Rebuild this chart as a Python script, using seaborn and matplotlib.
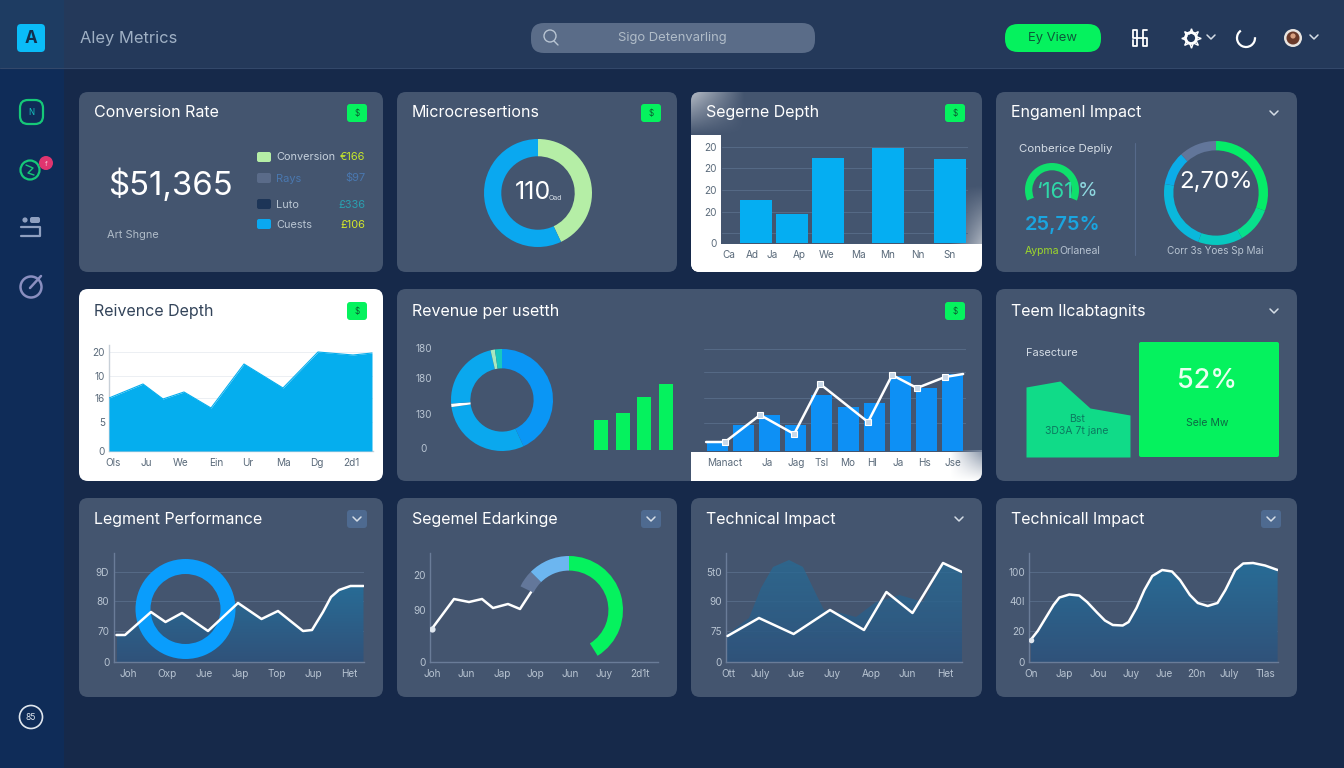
import numpy as np
import matplotlib
matplotlib.use("Agg")
import matplotlib.pyplot as plt
from matplotlib.patches import FancyBboxPatch, Rectangle, Circle, Arc
from matplotlib.colors import to_rgb
import seaborn as sns

# ---------- data ----------
micro_share = [43, 57]
seg_x = [34, 70, 106, 166, 228]
seg_vals = [43, 29, 85, 95, 84]
seg_ticks = [96, 75, 53, 31, 10, 0]
seg_ticklabels = ["20", "20", "20", "20", "", "0"]
seg_xticks = [7, 30, 50, 77, 105, 136, 166, 196, 228]
seg_xlabels = ["Ca", "Ad", "Ja", "Ap", "We", "Ma", "Mn", "Nn", "Sn"]

engage_ring = [110, 40, 50, 80, 38, 42]
engage_gauge = [226, 134]

rev_x = [0, 34, 54, 75, 102, 135, 174, 209, 244, 263]
rev_y = [53, 67, 52, 59, 43, 87, 63, 99, 96, 98]
rev_ticks = [99, 75, 53, 29, 0]
rev_ticklabels = ["20", "10", "16", "5", "0"]
rev_xticks = [4, 37, 72, 107, 139, 174, 208, 242]
rev_xlabels = ["Ols", "Ju", "We", "Ein", "Ur", "Ma", "Dg", "2d1"]

user_donut = [155, 107, 4, 81, 5, 8]
user_green = [30, 37, 53, 66]
user_green_cat = ["a", "b", "c", "d"]
user_bars = [9, 26, 36, 26, 56, 44, 48, 75, 63, 77]
user_line_x = [-0.42, 0.3, 1.64, 2.94, 3.93, 5.76, 6.68, 7.63, 8.7, 9.39]
user_line_y = [9, 9, 36, 17, 67, 29, 76, 63, 74, 77]
user_grid = [102, 79, 53, 28]
user_xticks = [0.3, 1.9, 3.0, 4.0, 5.0, 5.9, 6.9, 7.9, 9.0]
user_xlabels = ["Manact", "Ja", "Jag", "Tsl", "Mo", "Hl", "Ja", "Hs", "Jse"]

team_x = [0, 34, 64, 104]
team_y = [70, 76, 49, 42]

leg_x = [3, 11.5, 37.5, 52, 68.5, 94.5, 124.5, 148, 164.5, 189.5, 198.5, 209.5, 217.5, 225.5, 237, 250]
leg_y = [27, 27, 50, 40, 49, 31, 59, 43, 51, 31, 32, 50, 65, 72, 76, 76]
leg_xticks = [15, 53, 91, 127, 163, 200, 236]
leg_xlabels = ["Joh", "Oxp", "Jue", "Jap", "Top", "Jup", "Het"]

sgm_x = [2, 24.3, 39.3, 52.3, 63.3, 78.3, 90.3, 102.7]
sgm_y = [33, 63, 60, 63, 54, 58, 53, 72]
sgm_gauge = [19, 45, 148, 148]
sgm_xticks = [3, 36, 72, 106, 140, 174, 210]
sgm_xlabels = ["Joh", "Jun", "Jap", "Jop", "Jun", "Juy", "2d1t"]

tech_x = [1.5, 33, 67.6, 104, 138, 160.4, 186.5, 217, 236]
tech_y = [26, 44, 28, 52, 32, 70, 49, 99, 90]
tech_fill_x = [0, 23, 35, 47, 63, 77, 90.5, 98, 104, 130, 150, 173.5, 197, 217, 236]
tech_fill_y = [27, 44, 74, 95, 102, 95, 67, 52, 52, 45, 60, 67, 60, 99, 90]
tech_xticks = [2, 34, 70, 106, 145, 181, 219]
tech_xlabels = ["Ott", "July", "Jue", "Juy", "Aop", "Jun", "Het"]

imp_x = [1.6, 8.7, 16.6, 24.5, 30.4, 40.3, 50.2, 58.1, 68, 75.9, 83.8, 93.7, 99.6, 107.5, 115.4,
         123.3, 133.2, 143, 151, 160.9, 168.8, 178.7, 188.5, 196.4, 206.3, 214.2, 224.1, 236, 248.6]
imp_y = [22, 31, 44, 57, 64.5, 67.5, 66.5, 60, 49.5, 41.5, 37, 36.5, 40, 54, 72,
         86, 92, 90.5, 82, 67, 59, 56, 59, 72, 92, 98.5, 99, 96.5, 92]
imp_xticks = [2, 35, 69, 102, 135, 167, 200, 236]
imp_xlabels = ["On", "Jap", "Jou", "Juy", "Jue", "20n", "July", "Tlas"]

# ---------- style ----------
sns.set_theme(style="white")
plt.rcParams["font.family"] = ["Inter", "DejaVu Sans"]
plt.rcParams["axes.unicode_minus"] = False

BG = "#16294a"
SIDE = "#0f2c58"
HEAD = "#24395a"
PANEL = "#44556f"
GREEN = "#05f25e"
BLUE = "#05aeee"
LABEL = "#b8c4d2"
DARK = "#5a6a7a"
GRID = "#566a86"
AXIS = "#6a7c98"

W, H = 1344, 768
fig = plt.figure(figsize=(W / 100, H / 100), dpi=100, facecolor=BG)


def axes_px(x0, y0, x1, y1, z=2):
    ax = fig.add_axes([x0 / W, 1 - y1 / H, (x1 - x0) / W, (y1 - y0) / H], zorder=z)
    ax.patch.set_alpha(0)
    return ax


bg = axes_px(0, 0, W, H, 0)
bg.set_xlim(0, W)
bg.set_ylim(H, 0)
bg.axis("off")
fg = axes_px(0, 0, W, H, 20)
fg.set_xlim(0, W)
fg.set_ylim(H, 0)
fg.axis("off")


def T(x, y, s, px, color="white", ha="left", weight="normal"):
    return fg.text(x, y + 1.5, s, fontsize=px * 0.72, color=color, ha=ha, va="center", fontweight=weight)


def panel(x0, y0, x1, y1, color=PANEL, target=bg, rad=9, z=1):
    p = FancyBboxPatch((x0 + rad, y0 + rad), x1 - x0 - 2 * rad, y1 - y0 - 2 * rad,
                       boxstyle=f"round,pad={rad},rounding_size={rad}",
                       fc=color, ec="none", zorder=z)
    target.add_patch(p)
    return p


def badge(x, y, s="$"):
    panel(x - 10, y - 9, x + 10, y + 9, GREEN, bg, 3, 3)
    T(x, y - 1, s, 8, "#0a5a30", "center")


def chev(x, y, c="#d5dde6", s=4):
    fg.plot([x - s, x, x + s], [y - s / 2, y + s / 2, y - s / 2], color=c, lw=1.1)


def gloss(x0, y0, x1, y1, clip, hramp, vramp, color="white", a=0.55):
    n = 64
    arr = np.ones((n, n, 4))
    arr[..., :3] = to_rgb(color)
    h = np.linspace(a, 0, n) if hramp == "left" else np.linspace(0, a, n)
    v = np.linspace(1, 0, n) if vramp == "top" else np.linspace(0, 1, n)
    arr[..., 3] = h[None, :] * v[:, None]
    im = bg.imshow(arr, extent=(x0, x1, y1, y0), aspect="auto", zorder=4)
    im.set_clip_path(clip)
    bg.set_xlim(0, W)
    bg.set_ylim(H, 0)


def donut(cx, cy, r, values, colors, width, start=0, z=3):
    ax = axes_px(cx - r, cy - r, cx + r, cy + r, z)
    ax.pie(values, colors=colors, startangle=90 - start, counterclock=False, radius=1,
           wedgeprops=dict(width=width, linewidth=0))
    ax.set_xlim(-1, 1)
    ax.set_ylim(-1, 1)
    return ax


def chart(x0, y0, x1, y1, yticks, ylabels, xticks, xlabels, z=2, grid=True, light=False,
          spines=True, lab=None, pad=3):
    ax = axes_px(x0, y0, x1, y1, z)
    ax.set_xlim(0, x1 - x0)
    ax.set_ylim(0, y1 - y0)
    return style_chart(ax, yticks, ylabels, xticks, xlabels, grid, light, spines, lab, pad)


def style_chart(ax, yticks, ylabels, xticks, xlabels, grid=True, light=False, spines=True, lab=None, pad=3):
    col = lab or (DARK if light else LABEL)
    ax.set_xticks(xticks, xlabels)
    ax.set_yticks(yticks, ylabels)
    ax.tick_params(axis="both", length=0, labelsize=7.2, labelcolor=col)
    ax.tick_params(axis="x", pad=5)
    ax.tick_params(axis="y", pad=pad)
    ax.set_xlabel("")
    ax.set_ylabel("")
    for s in ("top", "right"):
        ax.spines[s].set_visible(False)
    for s in ("left", "bottom"):
        ax.spines[s].set_visible(spines)
        ax.spines[s].set_color("#c8d0d8" if light else AXIS)
        ax.spines[s].set_linewidth(1)
    if grid:
        ax.grid(axis="y", color="#eceff3" if light else GRID, lw=0.7)
        ax.set_axisbelow(True)
    else:
        ax.grid(False)
    return ax


def grad_fill(ax, x, y, top=(40, 108, 150), bottom=(48, 82, 122), top_alpha=0.9):
    poly = ax.fill_between(x, 0, y, color="none", lw=0)
    xl, yl = ax.get_xlim(), ax.get_ylim()
    n = 128
    t = np.linspace(1, 0, n)
    tp, bt = np.array(top) / 255, np.array(bottom) / 255
    arr = np.zeros((n, 1, 4))
    arr[:, 0, :3] = tp[None, :] * t[:, None] + bt[None, :] * (1 - t[:, None])
    arr[:, 0, 3] = 1 - (1 - top_alpha) * t
    im = ax.imshow(arr, extent=(min(x), max(x), 0, max(y)), aspect="auto", zorder=1)
    im.set_clip_path(poly.get_paths()[0], ax.transData)
    ax.set_xlim(xl)
    ax.set_ylim(yl)
    return im


def line(ax, x, y, lw=1.8):
    sns.lineplot(x=x, y=y, color="white", lw=lw, ax=ax, sort=False, estimator=None, errorbar=None,
                 zorder=5, solid_joinstyle="round")
    ax.set_xlabel("")
    ax.set_ylabel("")


# ---------- chrome ----------
bg.add_patch(Rectangle((0, 0), 64, H, fc=SIDE, ec="none", zorder=0.2))
bg.add_patch(Rectangle((0, 0), W, 68, fc=HEAD, ec="none", zorder=0.3))
bg.add_patch(Rectangle((0, 0), 64, 68, fc="#1e3c62", ec="none", zorder=0.4))
bg.plot([0, W], [68, 68], color="#33486a", lw=0.8, zorder=0.5)

panel(17, 24, 45, 52, "#0abcf8", bg, 4, 2)
T(31, 37, "A", 17, "#12304e", "center", "bold")
T(80, 37, "Aley Metrics", 16.5, "#9fb0c4")
panel(531, 23, 815, 53, "#5a6c88", bg, 13, 2)
T(672, 37, "Sigo Detenvarling", 13, "#b0bcc8", "center")
fg.add_patch(Circle((550, 36), 6, fc="none", ec="#b8c4d2", lw=1))
fg.plot([554, 558], [41, 45], color="#b8c4d2", lw=1)
panel(1005, 24, 1101, 52, GREEN, bg, 13, 2)
T(1053, 37, "Ey View", 13, "#0c5a3a", "center")
fg.plot([1133, 1133, 1137, 1137, 1133, 1133, 1147, 1147, 1143, 1143, 1147],
        [40, 46, 46, 30, 30, 38, 38, 46, 46, 30, 30], color="white", lw=1.3)
fg.add_patch(Circle((1191, 38), 5.5, fc="none", ec="white", lw=2))
fg.plot([1191], [38], marker=(8, 1, 0), ms=14, mfc="none", mec="white", mew=1)
chev(1211, 37)
fg.add_patch(Arc((1246, 38), 18, 18, theta1=-5, theta2=235, ec="white", lw=1.6))
chev(1314, 37)
fg.add_patch(Circle((1293, 38), 9, fc="#e8e4e0", ec="none"))
fg.add_patch(Circle((1293, 38), 6.5, fc="#6a3a2a", ec="none"))
fg.add_patch(Circle((1293, 36), 2.6, fc="#d8a080", ec="none"))

# sidebar icons
panel(20, 100, 43, 124, "none", fg, 8, 6).set(ec="#16c878", lw=1.6)
T(31, 111, "N", 8, "#18c8c0", "center")
fg.add_patch(Circle((30, 170), 9.5, fc="none", ec="#16c878", lw=1.6))
fg.plot([26, 33, 28, 34], [165, 168, 173, 175], color="#16c878", lw=1)
fg.add_patch(Circle((46, 163), 7, fc="#e0356f", ec="none"))
T(46, 162, "f", 7, "#f5c0d0", "center")
fg.add_patch(Circle((25, 220), 2.6, fc="#8fa0c0", ec="none"))
panel(30, 217, 40, 223, "#8fa0c0", fg, 2, 6)
fg.plot([21, 40, 40, 21], [227, 227, 236, 236], color="#8fa0c0", lw=1.6)
fg.add_patch(Circle((31, 287), 10.5, fc="none", ec="#8a8fc0", lw=1.8))
fg.plot([30, 41], [288, 276], color="#8a8fc0", lw=1.8)
fg.add_patch(Circle((31, 717), 11.5, fc="none", ec="#dfe6ee", lw=1.2))
T(31, 716, "85", 8.5, "#dfe6ee", "center")

# ---------- panels ----------
panel(79, 92, 383, 272)
panel(397, 92, 677, 272)
p3 = panel(691, 92, 982, 272)
panel(996, 92, 1297, 272)
panel(79, 289, 383, 481, "#ffffff")
p6 = panel(397, 289, 982, 481)
panel(996, 289, 1297, 481)
panel(79, 498, 383, 697)
panel(397, 498, 677, 697)
panel(691, 498, 982, 697)
panel(996, 498, 1297, 697)

for x0, y0, x1, y1, clip in [(691, 244, 982, 272, p3), (691, 135, 721, 272, p3), (691, 452, 982, 481, p6)]:
    r = bg.add_patch(Rectangle((x0, y0), x1 - x0, y1 - y0, fc="white", ec="none", zorder=2))
    r.set_clip_path(clip)

gloss(691, 92, 745, 135, p3, "left", "top", "white", 0.6)
gloss(950, 185, 982, 244, p3, "right", "bottom", "white", 0.55)
gloss(950, 450, 982, 481, p6, "right", "top", "#7d8ba0", 0.9)

for x, y, s, c in [(94, 111, "Conversion Rate", "white"), (412, 111, "Microcresertions", "white"),
                   (706, 111, "Segerne Depth", "white"), (1011, 111, "Engamenl Impact", "white"),
                   (94, 310, "Reivence Depth", "#33445a"), (412, 310, "Revenue per usetth", "white"),
                   (1011, 310, "Teem Ilcabtagnits", "white"), (94, 518, "Legment Performance", "white"),
                   (412, 518, "Segemel Edarkinge", "white"), (706, 518, "Technical Impact", "white"),
                   (1011, 518, "Technicall Impact", "white")]:
    T(x, y, s, 16, c)

for x, y in [(357, 113), (651, 113), (955, 113), (357, 311), (955, 311)]:
    badge(x, y)
for x, y in [(1274, 113), (1274, 311), (959, 519)]:
    chev(x, y)
for x, y in [(357, 519), (651, 519), (1271, 519)]:
    panel(x - 10, y - 9, x + 10, y + 9, "#4e6a90", bg, 3, 3)
    chev(x, y)

# ---------- conversion rate ----------
T(170, 184, "$51,365", 33, "white", "center")
T(107, 233, "Art Shgne", 11, "#b0bcc8")
legend_rows = [(157, "#b5eea6", "Conversion", "#c5d0dc", "€166", "#c8e82a"),
               (178, "#5a6b89", "Rays", "#4a78b0", "$97", "#4a78b0"),
               (204, "#1d3557", "Luto", "#b9c5d2", "£336", "#2aa0b0"),
               (224, "#0aa8f0", "Cuests", "#b9c5d2", "£106", "#d5e82a")]
for y, sq, name, c1, val, c2 in legend_rows:
    panel(257, y - 5, 271, y + 5, sq, bg, 2, 3)
    T(276, y - 1, name, 11, c1)
    T(365, y - 1, val, 11, c2, "right")

# ---------- microcresertions ----------
donut(538, 193, 54, micro_share, ["#b5eea6", "#0aa8f0"], 0.32)
T(515, 191, "110", 25, "white")
T(549, 196, "Oad", 7, "#d5dde6")

# ---------- segerne depth ----------
ax = axes_px(722, 135, 968, 243, 3)
sns.barplot(x=seg_x, y=seg_vals, native_scale=True, width=0.89, color="#05aef2", saturation=1,
            linewidth=0, edgecolor="none", ax=ax, zorder=3)
ax.set_xlim(0, 246)
ax.set_ylim(0, 108)
style_chart(ax, seg_ticks, seg_ticklabels, seg_xticks, seg_xlabels, True, False, False, DARK, 4)

# ---------- engagement impact ----------
T(1066, 148, "Conberice Depliy", 11.5, "#d5dde6", "center")
bg.plot([1135, 1135], [143, 255], color="#56698a", lw=0.8, zorder=2)
donut(1052, 190, 27, engage_gauge, ["#0fe06c", "none"], 0.27, -113)
T(1036, 190, "‘161", 22, "#2fd8a8")
T(1078, 190, "%", 20, "#8fd8e0")
T(1063, 223, "25,75%", 20, "#1aa5e0", "center", "semibold")
T(1025, 250, "Aypma", 10.5, "#9ed82a")
T(1059, 250, "Orlaneal", 10.5, "#b6c2d0")
donut(1216, 193, 52, engage_ring, ["#05ec68", "#08e08c", "#08c8c0", "#0ab8dc", "#0cace8", "#62769a"], 0.18)
T(1216, 180, "2,70%", 24, "white", "center")
T(1215, 250, "Corr 3s Yoes Sp Mai", 10, "#b6c2d0", "center")

# ---------- reivence depth ----------
ax = chart(109, 345, 373, 451, rev_ticks, rev_ticklabels, rev_xticks, rev_xlabels, 3, True, True, True)
ax.fill_between(rev_x, 0, rev_y, color=BLUE, lw=0, zorder=3)
sns.lineplot(x=rev_x, y=rev_y, color=BLUE, lw=0.8, ax=ax, estimator=None, errorbar=None, zorder=3)
style_chart(ax, rev_ticks, rev_ticklabels, rev_xticks, rev_xlabels, True, True, True)
ax.set_xlim(0, 264)
ax.set_ylim(0, 106)

# ---------- revenue per user ----------
for y, s in [(348, "180"), (378, "180"), (414, "130"), (448, "0")]:
    T(424, y - 1, s, 10, LABEL, "center")
donut(502, 400, 51, user_donut, ["#0a96f5", "#0aa8ee", "white", "#0aa8ee", "#a8e8c0", "#18c8c0"], 0.38)
ax = axes_px(590.5, 345, 676.5, 450, 3)
sns.barplot(x=user_green_cat, y=user_green, color=GREEN, saturation=1, width=0.63,
            linewidth=0, edgecolor="none", ax=ax)
ax.set_ylim(0, 105)
ax.set_xlim(-0.5, 3.5)
ax.axis("off")

ax = axes_px(704, 345, 966, 451, 3)
sns.barplot(x=list(range(10)), y=user_bars, color="#0d90f5", saturation=1, width=0.8,
            linewidth=0, edgecolor="none", ax=ax, zorder=3, native_scale=True)
ax.set_xlim(-0.5, 9.5)
ax.set_ylim(0, 106)
style_chart(ax, user_grid, ["" for _ in user_grid], user_xticks, user_xlabels, True, False, False, DARK)
line(ax, user_line_x, user_line_y)
ax.plot(user_line_x[1:-1], user_line_y[1:-1], ls="none", marker="s", ms=3.8, mfc="#c8d8e8", mec="white", mew=0.8, zorder=6)
ax.set_xlim(-0.5, 9.5)
ax.set_ylim(0, 106)

# ---------- team highlights ----------
T(1026, 352, "Fasecture", 11, "#d5dde6")
ax = axes_px(1026, 372, 1130, 457, 3)
ax.fill_between(team_x, 0, team_y, color="#10db88", lw=0)
ax.set_xlim(0, 104)
ax.set_ylim(0, 85)
ax.axis("off")
panel(1139, 342, 1279, 457, GREEN, bg, 2, 2)
T(1207, 380, "52%", 27, "#e8fff0", "center", "medium")
T(1207, 422, "Sele Mw", 10.5, "#0c6a44", "center")
T(1077, 417, "Bst", 10.5, "#0c7a60", "center")
T(1077, 430, "3D3A 7t jane", 10.5, "#0c7a60", "center")

# ---------- bottom row ----------
bt_ticks = [90, 61, 31, 0]

ax = chart(113.5, 553, 364, 662, bt_ticks, ["9D", "80", "70", "0"], leg_xticks, leg_xlabels, 2)
grad_fill(ax, leg_x, leg_y, top_alpha=1)
donut(185.5, 609, 50, [1], ["#0a9dfc"], 0.30, 0, 3)
ax2 = axes_px(113.5, 553, 364, 662, 4)
line(ax2, leg_x, leg_y)
ax2.set_xlim(0, 250.5)
ax2.set_ylim(0, 109)
ax2.axis("off")

ax = chart(429.7, 553, 658, 662, [87, 52, 0], ["20", "90", "0"], sgm_xticks, sgm_xlabels, 2, False)
line(ax, sgm_x, sgm_y)
ax.plot(sgm_x[:1], sgm_y[:1], ls="none", marker="o", ms=4.5, mfc="#dfe6ee", mec="none", zorder=6)
ax.set_xlim(0, 228.3)
ax.set_ylim(0, 109)
donut(569, 610, 54, sgm_gauge, ["#63779a", "#6cb6f0", GREEN, "none"], 0.27, -64, 3)

ax = chart(726, 553, 962, 662, bt_ticks, ["5t0", "90", "75", "0"], tech_xticks, tech_xlabels, 2)
grad_fill(ax, tech_fill_x, tech_fill_y, top_alpha=0.75)
line(ax, tech_x, tech_y)
ax.set_xlim(0, 236)
ax.set_ylim(0, 109)

ax = chart(1029, 553, 1278, 662, bt_ticks, ["100", "40I", "20", "0"], imp_xticks, imp_xlabels, 2)
grad_fill(ax, imp_x, imp_y, top_alpha=1)
line(ax, imp_x, imp_y)
ax.plot(imp_x[:1], imp_y[:1], ls="none", marker="o", ms=4, mfc="#dfe6ee", mec="none", zorder=6)
ax.set_xlim(0, 249)
ax.set_ylim(0, 109)

fig.savefig("out.png", dpi=100, facecolor=BG)
